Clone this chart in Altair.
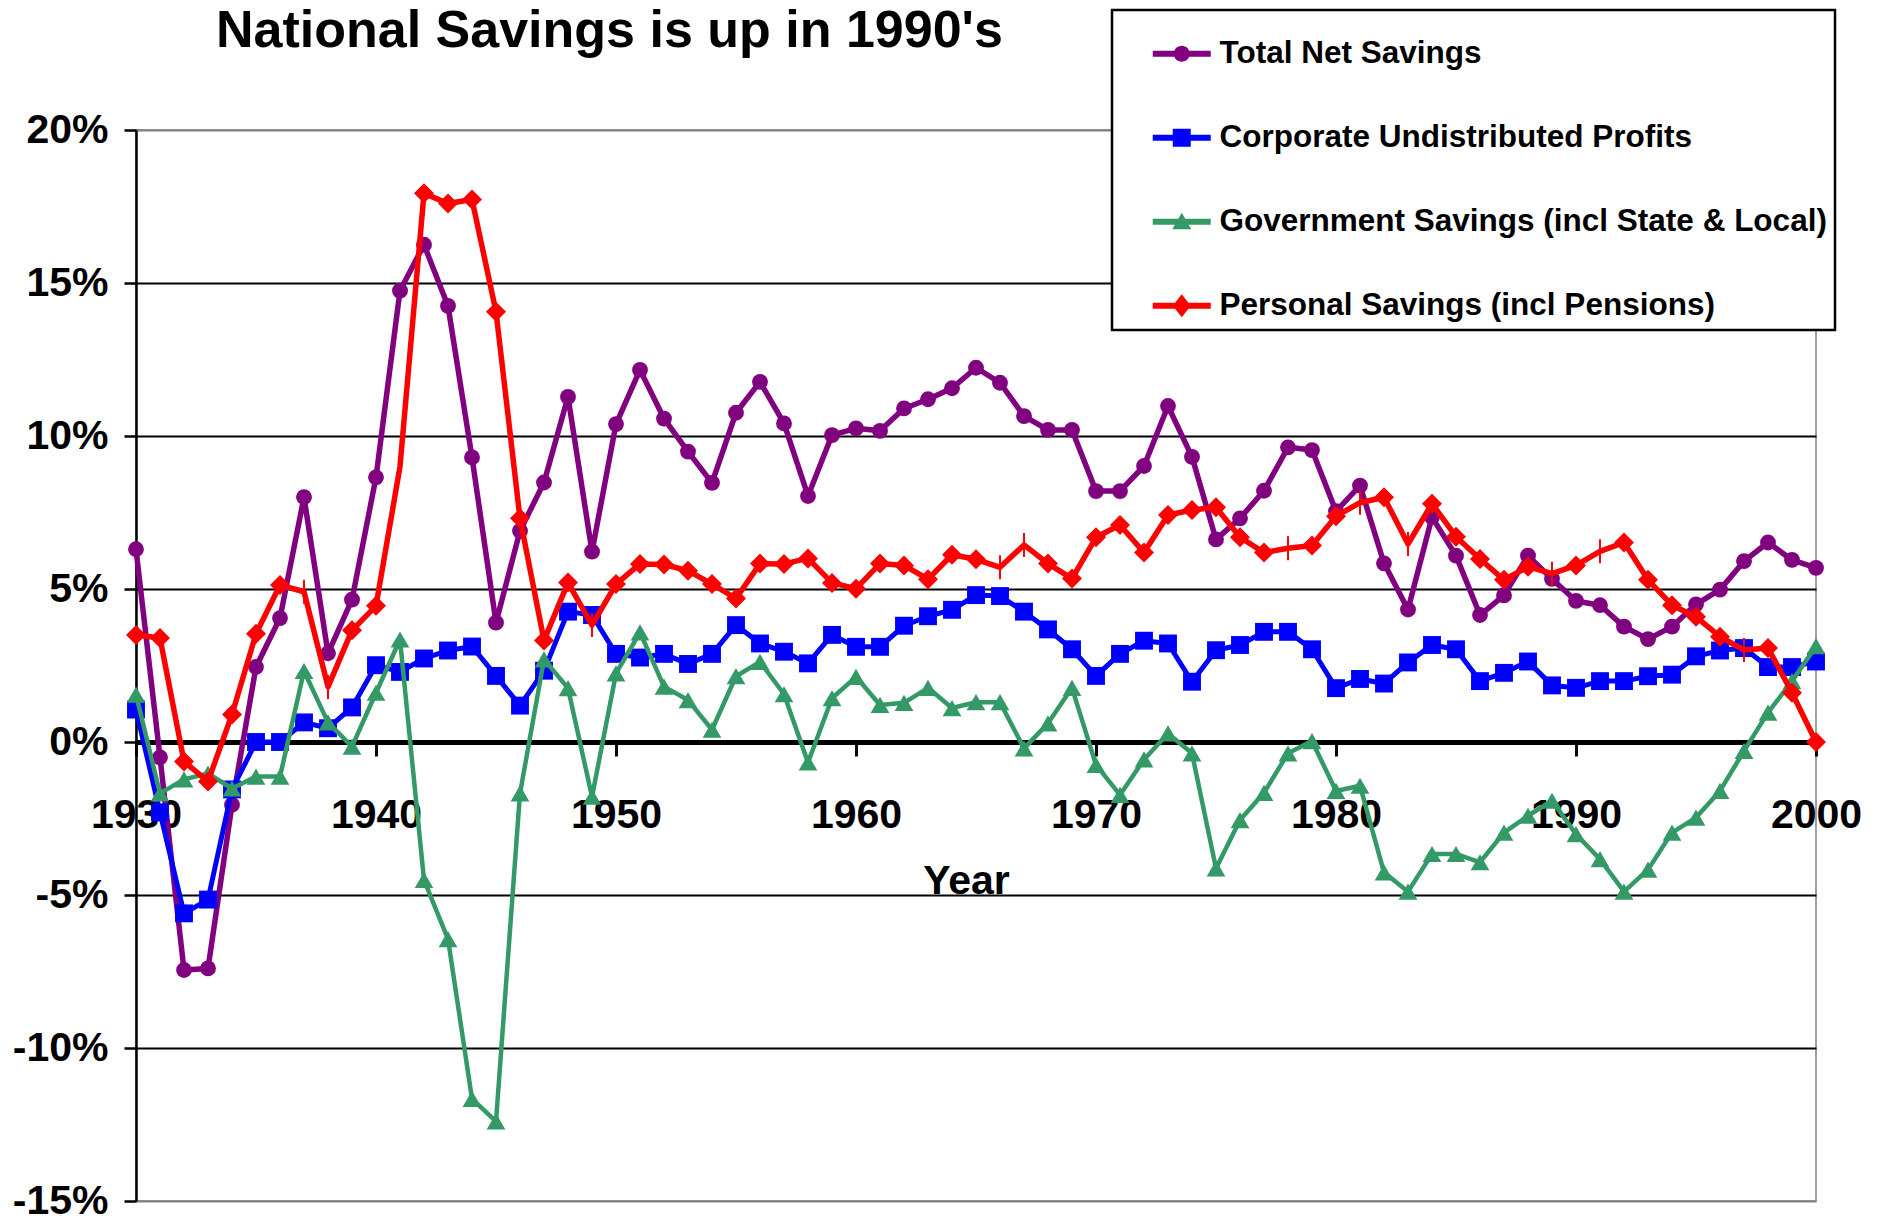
import altair as alt
import pandas as pd

FONT = "Liberation Sans"

years = list(range(1930, 2001))

total_net = [
    6.3, -0.5, -7.45, -7.4, -2.05, 2.45, 4.05, 8.0, 2.9, 4.65,
    8.65, 14.75, 16.25, 14.25, 9.3, 3.9, 6.9, 8.48, 11.28, 6.22,
    10.39, 12.16, 10.57, 9.49, 8.47, 10.76, 11.77, 10.41, 8.04, 10.03,
    10.25, 10.17, 10.9, 11.2, 11.56, 12.23, 11.74, 10.65, 10.2, 10.2,
    8.2, 8.2, 9.02, 10.98, 9.32, 6.62, 7.31, 8.21, 9.63, 9.54,
    7.54, 8.38, 5.84, 4.33, 7.35, 6.09, 4.15, 4.79, 6.09, 5.33,
    4.61, 4.47, 3.77, 3.36, 3.77, 4.5, 4.98, 5.91, 6.52, 5.95,
    5.69,
]
corporate = [
    1.06, -2.3, -5.6, -5.15, -1.55, 0.0, 0.0, 0.64, 0.45, 1.13,
    2.51, 2.29, 2.73, 2.99, 3.12, 2.16, 1.19, 2.33, 4.26, 4.15,
    2.88, 2.76, 2.88, 2.55, 2.88, 3.82, 3.22, 2.95, 2.57, 3.5,
    3.11, 3.11, 3.8, 4.11, 4.32, 4.8, 4.77, 4.26, 3.68, 3.03,
    2.16, 2.88, 3.31, 3.22, 1.97, 3.0, 3.17, 3.6, 3.6, 3.03,
    1.76, 2.06, 1.91, 2.6, 3.17, 3.03, 1.99, 2.26, 2.63, 1.85,
    1.77, 1.99, 1.99, 2.15, 2.2, 2.8, 2.99, 3.07, 2.45, 2.45,
    2.63,
]
government = [
    1.55, -1.68, -1.22, -1.03, -1.52, -1.13, -1.13, 2.32, 0.64, -0.15,
    1.61, 3.35, -4.51, -6.44, -11.66, -12.4, -1.68, 2.7, 1.76, -1.79,
    2.24, 3.58, 1.81, 1.37, 0.4, 2.15, 2.62, 1.56, -0.67, 1.43,
    2.13, 1.21, 1.28, 1.77, 1.11, 1.3, 1.3, -0.21, 0.61, 1.77,
    -0.75, -1.73, -0.57, 0.28, -0.37, -4.13, -2.55, -1.66, -0.37, 0.03,
    -1.6, -1.43, -4.26, -4.89, -3.66, -3.66, -3.93, -2.96, -2.41, -1.92,
    -3.01, -3.83, -4.89, -4.17, -2.96, -2.47, -1.6, -0.29, 0.96, 1.99,
    3.13,
]
personal = [
    3.5, 3.4, -0.64, -1.29, 0.9, 3.54, 5.13, 4.91, 1.8, 3.65,
    4.45, 9.0, 17.93, 17.6, 17.73, 14.06, 7.31, 3.32, 5.21, 3.82,
    5.16, 5.82, 5.8, 5.6, 5.16, 4.69, 5.83, 5.82, 6.0, 5.2,
    5.01, 5.83, 5.77, 5.32, 6.12, 5.97, 5.71, 6.44, 5.83, 5.34,
    6.69, 7.09, 6.19, 7.42, 7.58, 7.67, 6.69, 6.19, 6.33, 6.42,
    7.38, 7.82, 8.0, 6.47, 7.79, 6.71, 5.98, 5.3, 5.73, 5.5,
    5.77, 6.23, 6.52, 5.3, 4.47, 4.09, 3.44, 3.01, 3.07, 1.61,
    0.0,
]

series_names = [
    "Total Net Savings",
    "Corporate Undistributed Profits",
    "Government Savings (incl State & Local)",
    "Personal Savings (incl Pensions)",
]
series_colors = ["#800080", "#0000FF", "#339966", "#FF0000"]
series_shapes = ["circle", "square", "triangle-up", "diamond"]
series_sizes = [250, 320, 350, 400]
series_widths = [5.5, 5, 4.5, 5.5]

# legend glyphs: short line with the marker in the middle
legend_paths = [
    "M-2.9,-0.3H2.9V0.3H-2.9Z M0.8,0A0.8,0.8 0 1,1 -0.8,0A0.8,0.8 0 1,1 0.8,0Z",
    "M-2.9,-0.3H2.9V0.3H-2.9Z M-0.9,-0.9H0.9V0.9H-0.9Z",
    "M-2.9,-0.3H2.9V0.3H-2.9Z M0,-0.9L0.95,0.75L-0.95,0.75Z",
    "M-2.9,-0.3H2.9V0.3H-2.9Z M0,-1.15L0.9,0L0,1.15L-0.9,0Z",
]

x_ticks = [1930, 1940, 1950, 1960, 1970, 1980, 1990, 2000]
y_ticks = [-15, -10, -5, 0, 5, 10, 15, 20]

# red points drawn without a diamond marker, and those shown with a small dash
red_plain_years = [1937, 1938, 1941, 1949, 1966, 1967, 1978, 1981, 1983, 1989, 1991, 1997]
red_tick_years = [1937, 1938, 1949, 1966, 1967, 1978, 1981, 1983, 1989, 1991, 1997]

rows = []
for name, vals in zip(series_names, [total_net, corporate, government, personal]):
    for yr, v in zip(years, vals):
        is_red = name == series_names[3]
        rows.append({
            "year": yr,
            "value": v,
            "series": name,
            "marker": not (is_red and yr in red_plain_years),
            "tick": is_red and yr in red_tick_years,
        })
df = pd.DataFrame(rows)

W, H = 1680, 1071
zero_offset = -(H * 15 / 35)

x_axis = alt.Axis(
    values=x_ticks, format="d", title="Year", grid=False,
    domainColor="black", domainWidth=5,
    tickColor="black", tickWidth=3, tickSize=14,
    labelFont=FONT, labelFontSize=41, labelFontWeight="bold", labelColor="black",
    labelPadding=39, labelFlush=False, labelOverlap=False,
    titleFont=FONT, titleFontSize=41, titleFontWeight="bold", titleColor="black",
    titlePadding=26, titleX=830,
    offset=zero_offset,
)
y_axis = alt.Axis(
    values=y_ticks, labelExpr="datum.value + '%'", title=None,
    grid=True,
    gridColor={"condition": {"test": "datum.value == 20 || datum.value == -15", "value": "#808080"}, "value": "black"},
    gridWidth=2,
    domainColor="black", domainWidth=2.5,
    tickColor="black", tickWidth=2.5, tickSize=12,
    labelFont=FONT, labelFontSize=41, labelFontWeight="bold", labelColor="black",
    labelPadding=16,
)

x_enc = alt.X("year:Q", scale=alt.Scale(domain=[1930, 2000], nice=False, zero=False), axis=x_axis)
y_enc = alt.Y("value:Q", scale=alt.Scale(domain=[-15, 20], nice=False, zero=False), axis=y_axis)

base = alt.Chart(df).encode(x=x_enc, y=y_enc)

layers = []
for name, color, shape, size, lw in zip(series_names, series_colors, series_shapes, series_sizes, series_widths):
    sel = base.transform_filter(alt.datum.series == name)
    layers.append(sel.mark_line(color=color, strokeWidth=lw, strokeJoin="round", strokeCap="round"))
    layers.append(
        sel.transform_filter("datum.marker").mark_point(
            shape=shape, size=size, filled=True, color=color, opacity=1, strokeWidth=0
        )
    )
    if name == series_names[3]:
        layers.append(
            sel.transform_filter("datum.tick").mark_tick(
                orient="vertical", color=color, thickness=2, size=24, opacity=1
            )
        )

leg = alt.Legend(
    orient="none", legendX=976, legendY=-120,
    title=" ", titleFontSize=8, titlePadding=12,
    padding=8, strokeColor="black", fillColor="white",
    labelFont=FONT, labelFontSize=31.5, labelFontWeight="bold", labelColor="black",
    labelLimit=1000, symbolSize=400, symbolStrokeWidth=0,
    symbolOffset=46, labelOffset=22, rowPadding=51, direction="vertical",
)
legend_layer = alt.Chart(df).transform_filter("false").mark_point(
    filled=True, opacity=1, strokeWidth=0
).encode(
    color=alt.Color("series:N", scale=alt.Scale(domain=series_names, range=series_colors), legend=leg),
    shape=alt.Shape("series:N", scale=alt.Scale(domain=series_names, range=legend_paths), legend=leg),
)

chart = alt.layer(*layers, legend_layer).properties(
    width=W, height=H,
    title=alt.TitleParams(
        "National Savings is up in 1990's", font=FONT, fontSize=52, fontWeight="bold",
        color="black", anchor="start", frame="group", dx=80, dy=90, offset=0,
        baseline="alphabetic",
    ),
    padding={"left": 128, "top": 122, "right": 57, "bottom": 20},
    autosize=alt.AutoSizeParams(type="none"),
).configure_view(
    stroke="#808080", strokeWidth=1.5
).configure_legend(
    strokeWidth=2.5
)

chart.save("out.html", embed_options={"renderer": "svg", "actions": False})
